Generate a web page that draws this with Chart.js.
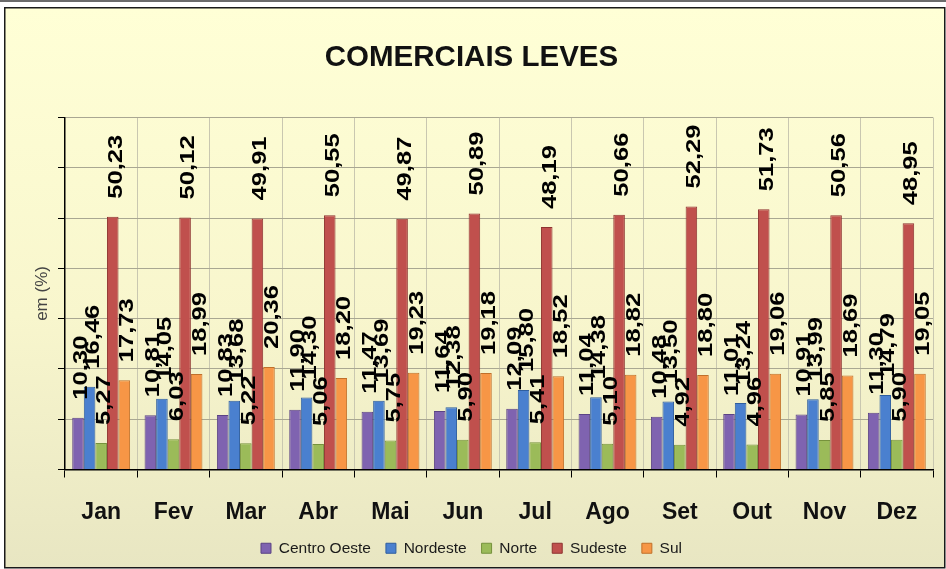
<!DOCTYPE html>
<html><head><meta charset="utf-8">
<script src="https://cdn.jsdelivr.net/npm/chart.js@4"></script>
<style>html,body{margin:0;padding:0;background:#fff;} canvas{display:block}</style>
</head><body>
<canvas id="c" width="946" height="569"></canvas>
<script>
const months = ['Jan','Fev','Mar','Abr','Mai','Jun','Jul','Ago','Set','Out','Nov','Dez'];
const centroOeste = [10.30,10.81,10.83,11.90,11.47,11.64,12.09,11.04,10.48,11.01,10.91,11.30];
const nordeste    = [16.46,14.05,13.68,14.30,13.69,12.38,15.80,14.38,13.50,13.24,13.99,14.79];
const norte       = [5.27,6.03,5.22,5.06,5.75,5.90,5.41,5.10,4.92,4.96,5.85,5.90];
const sudeste     = [50.23,50.12,49.91,50.55,49.87,50.89,48.19,50.66,52.29,51.73,50.56,48.95];
const sul         = [17.73,18.99,20.36,18.20,19.23,19.18,18.52,18.82,18.80,19.06,18.69,19.05];
const seriesNames = ['Centro Oeste','Nordeste','Norte','Sudeste','Sul'];
const seriesValues = [centroOeste, nordeste, norte, sudeste, sul];
const fills   = ['#7F63B0','#4A80CF','#9BBB59','#C0504D','#F79646'];
const borders = ['#5B4385','#2F5E9E','#76923C','#8E3330','#C0702A'];
const FONT = '"Liberation Sans", Arial, sans-serif';

const bgPlugin = {
  id: 'bg',
  beforeDraw(chart) {
    const ctx = chart.ctx;
    ctx.save();
    ctx.fillStyle = '#ffffff';
    ctx.fillRect(0, 0, chart.width, chart.height);
    ctx.fillStyle = '#6b6b6b';
    ctx.fillRect(0, 0, chart.width, 2);
    const g = ctx.createLinearGradient(0, 8, 0, 568);
    g.addColorStop(0, '#FFFFD6');
    g.addColorStop(0.55, '#F8F6CD');
    g.addColorStop(1, '#E8E6C2');
    ctx.fillStyle = g;
    ctx.fillRect(5, 8, chart.width - 6, chart.height - 9);
    ctx.strokeStyle = '#1a1a1a';
    ctx.lineWidth = 1.5;
    ctx.strokeRect(4.75, 7.75, chart.width - 6, chart.height - 9);
    ctx.restore();
  }
};

const labelPlugin = {
  id: 'vlabels',
  afterDatasetsDraw(chart) {
    const ctx = chart.ctx;
    chart.data.datasets.forEach((ds, i) => {
      const meta = chart.getDatasetMeta(i);
      meta.data.forEach((bar, j) => {
        const txt = ds.data[j].toFixed(2).replace('.', ',');
        ctx.save();
        ctx.translate(bar.x + 3.5, bar.y - 18);
        ctx.rotate(-Math.PI / 2);
        ctx.scale(1.28, 1);
        ctx.font = 'bold 20px ' + FONT;
        ctx.textAlign = 'left';
        ctx.textBaseline = 'middle';
        ctx.fillStyle = '#000';
        ctx.fillText(txt, 0, 0);
        ctx.restore();
      });
    });
  }
};

new Chart(document.getElementById('c'), {
  type: 'bar',
  data: {
    labels: months,
    datasets: seriesNames.map((n, i) => ({
      label: n,
      data: seriesValues[i],
      backgroundColor: fills[i],
      borderColor: borders[i],
      borderWidth: 1,
      categoryPercentage: 0.8,
      barPercentage: 1.0
    }))
  },
  options: {
    responsive: false,
    animation: false,
    devicePixelRatio: 1,
    layout: { padding: { left: 10, right: 13, top: 8, bottom: 3 } },
    plugins: {
      title: {
        display: true,
        text: 'COMERCIAIS LEVES',
        color: '#111',
        font: { family: FONT, size: 29.5, weight: 'bold' },
        padding: { top: 32, bottom: 42 }
      },
      legend: {
        position: 'bottom',
        labels: {
          boxWidth: 10, boxHeight: 10, padding: 15,
          color: '#1a1a1a',
          font: { family: FONT, size: 15.5 }
        }
      },
      tooltip: { enabled: false }
    },
    scales: {
      x: {
        afterFit(scale) { scale.height = 56; },
        grid: { color: '#C9C7B0', lineWidth: 1, tickColor: '#000', tickLength: 8 },
        border: { color: '#000', width: 1.5 },
        ticks: { color: '#111', padding: 21, font: { family: FONT, size: 23, weight: 'bold' } }
      },
      y: {
        min: 0, max: 70,
        afterFit(scale) { scale.width = 55; },
        ticks: { display: false, stepSize: 10 },
        grid: { color: '#A9A792', lineWidth: 1, tickColor: '#000', tickLength: 7 },
        border: { color: '#000', width: 1.5 },
        title: {
          display: true, text: 'em (%)', color: '#444',
          font: { family: FONT, size: 17 },
          padding: { top: 22, bottom: 0 }
        }
      }
    }
  },
  plugins: [bgPlugin, labelPlugin]
});
</script>
</body></html>
